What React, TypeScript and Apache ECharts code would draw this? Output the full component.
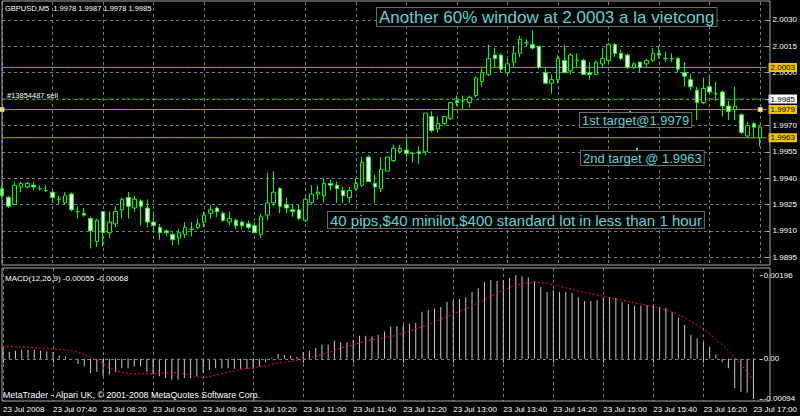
import React, { useEffect, useRef } from "react";
import * as echarts from "echarts";

// ---------- data ----------
const BAR_TIMES: string[] = (() => {
  const a: string[] = [];
  for (let m = 7 * 60; m <= 17 * 60; m += 5) {
    const h = Math.floor(m / 60);
    const mm = m % 60;
    a.push(`${String(h).padStart(2, "0")}:${String(mm).padStart(2, "0")}`);
  }
  return a;
})();
const CATEGORIES = [...BAR_TIMES, ""];

const TIME_TICK_LABELS = [
  "23 Jul 2008", "23 Jul 07:40", "23 Jul 08:20", "23 Jul 09:00", "23 Jul 09:40",
  "23 Jul 10:20", "23 Jul 11:00", "23 Jul 11:40", "23 Jul 12:20", "23 Jul 13:00",
  "23 Jul 13:40", "23 Jul 14:20", "23 Jul 15:00", "23 Jul 15:40", "23 Jul 16:20", "23 Jul 17:00",
];

const OPEN = [
  1.9934, 1.9929, 1.9925, 1.9935, 1.9935, 1.9936, 1.9934, 1.9933, 1.9932, 1.9928,
  1.9926, 1.9931, 1.9921, 1.9920, 1.9917, 1.9904, 1.9921, 1.9909, 1.9914, 1.9922,
  1.9929, 1.9923, 1.9927, 1.9923, 1.9915, 1.9912, 1.9910, 1.9908, 1.9906, 1.9908,
  1.9911, 1.9912, 1.9915, 1.9920, 1.9923, 1.9920, 1.9915, 1.9916, 1.9915, 1.9914,
  1.9913, 1.9908, 1.9919, 1.9926, 1.9934, 1.9925, 1.9922, 1.9922, 1.9916, 1.9926,
  1.9931, 1.9930, 1.9937, 1.9936, 1.9933, 1.9929, 1.9934, 1.9936, 1.9952, 1.9937,
  1.9934, 1.9944, 1.9950, 1.9955, 1.9956, 1.9954, 1.9955, 1.9955, 1.9975, 1.9968,
  1.9971, 1.9974, 1.9984, 1.9984, 1.9983, 1.9987, 1.9995, 1.9999, 2.0010, 2.0010,
  2.0000, 2.0006, 2.0011, 2.0017, 2.0016, 2.0015, 2.0000, 1.9994, 1.9996, 2.0007,
  2.0001, 2.0007, 2.0007, 2.0000, 1.9999, 2.0005, 2.0007, 2.0016, 2.0011, 2.0010,
  2.0003, 2.0006, 2.0005, 2.0007, 2.0011, 2.0008, 2.0008, 2.0008, 2.0000, 1.9996,
  1.9990, 1.9983, 1.9992, 1.9988, 1.9989, 1.9981, 1.9979, 1.9976, 1.9964, 1.9971,
  1.9963,
];
const HIGH = [
  1.9936, 1.9930, 1.9938, 1.9938, 1.9938, 1.9938, 1.9936, 1.9936, 1.9933, 1.9930,
  1.9932, 1.9932, 1.9924, 1.9923, 1.9918, 1.9917, 1.9921, 1.9921, 1.9924, 1.9929,
  1.9932, 1.9930, 1.9928, 1.9928, 1.9921, 1.9914, 1.9911, 1.9909, 1.9911, 1.9915,
  1.9915, 1.9917, 1.9921, 1.9925, 1.9924, 1.9921, 1.9921, 1.9917, 1.9916, 1.9916,
  1.9915, 1.9920, 1.9943, 1.9944, 1.9935, 1.9929, 1.9925, 1.9925, 1.9929, 1.9936,
  1.9936, 1.9940, 1.9939, 1.9938, 1.9935, 1.9935, 1.9940, 1.9952, 1.9953, 1.9942,
  1.9952, 1.9952, 1.9959, 1.9959, 1.9963, 1.9955, 1.9958, 1.9977, 1.9978, 1.9975,
  1.9975, 1.9983, 1.9987, 1.9987, 1.9987, 1.9998, 2.0003, 2.0016, 2.0014, 2.0011,
  2.0008, 2.0015, 2.0021, 2.0019, 2.0024, 2.0015, 2.0003, 1.9999, 2.0010, 2.0016,
  2.0011, 2.0011, 2.0008, 2.0006, 2.0007, 2.0014, 2.0017, 2.0017, 2.0013, 2.0011,
  2.0006, 2.0006, 2.0008, 2.0014, 2.0015, 2.0012, 2.0011, 2.0009, 2.0006, 1.9999,
  1.9992, 1.9997, 1.9998, 1.9995, 1.9990, 1.9984, 1.9992, 1.9977, 1.9972, 1.9972,
  1.9970,
];
const LOW = [
  1.9929, 1.9923, 1.9925, 1.9932, 1.9934, 1.9933, 1.9933, 1.9932, 1.9926, 1.9925,
  1.9925, 1.9921, 1.9917, 1.9918, 1.9900, 1.9901, 1.9901, 1.9906, 1.9912, 1.9917,
  1.9917, 1.9921, 1.9913, 1.9912, 1.9909, 1.9905, 1.9907, 1.9902, 1.9902, 1.9906,
  1.9907, 1.9911, 1.9912, 1.9917, 1.9918, 1.9915, 1.9913, 1.9911, 1.9911, 1.9911,
  1.9909, 1.9906, 1.9916, 1.9924, 1.9920, 1.9920, 1.9918, 1.9916, 1.9915, 1.9925,
  1.9928, 1.9926, 1.9933, 1.9926, 1.9926, 1.9926, 1.9933, 1.9935, 1.9938, 1.9926,
  1.9932, 1.9944, 1.9949, 1.9954, 1.9952, 1.9949, 1.9948, 1.9953, 1.9966, 1.9966,
  1.9970, 1.9973, 1.9981, 1.9979, 1.9980, 1.9986, 1.9992, 1.9998, 2.0003, 2.0000,
  1.9998, 2.0003, 2.0009, 2.0015, 2.0013, 2.0002, 1.9994, 1.9988, 1.9994, 2.0000,
  1.9999, 2.0003, 1.9999, 1.9996, 1.9999, 2.0003, 2.0006, 2.0009, 2.0007, 2.0002,
  2.0002, 2.0000, 2.0003, 2.0006, 2.0008, 2.0006, 2.0006, 2.0000, 1.9992, 1.9990,
  1.9973, 1.9982, 1.9988, 1.9984, 1.9975, 1.9973, 1.9973, 1.9965, 1.9963, 1.9963,
  1.9958,
];
const CLOSE = [
  1.9930, 1.9924, 1.9936, 1.9937, 1.9937, 1.9935, 1.9934, 1.9933, 1.9929, 1.9928,
  1.9930, 1.9922, 1.9921, 1.9919, 1.9910, 1.9916, 1.9909, 1.9915, 1.9921, 1.9928,
  1.9924, 1.9928, 1.9924, 1.9915, 1.9913, 1.9909, 1.9909, 1.9905, 1.9909, 1.9912,
  1.9911, 1.9914, 1.9919, 1.9922, 1.9921, 1.9916, 1.9917, 1.9913, 1.9913, 1.9912,
  1.9909, 1.9918, 1.9926, 1.9932, 1.9924, 1.9923, 1.9921, 1.9917, 1.9928, 1.9931,
  1.9932, 1.9937, 1.9936, 1.9934, 1.9930, 1.9933, 1.9937, 1.9949, 1.9938, 1.9935,
  1.9945, 1.9952, 1.9957, 1.9957, 1.9954, 1.9954, 1.9954, 1.9977, 1.9967, 1.9971,
  1.9975, 1.9983, 1.9983, 1.9984, 1.9986, 1.9997, 2.0000, 2.0008, 2.0008, 2.0002,
  2.0005, 2.0011, 2.0019, 2.0017, 2.0014, 2.0003, 1.9994, 1.9996, 2.0008, 2.0000,
  2.0010, 2.0007, 1.9999, 1.9999, 2.0006, 2.0008, 2.0016, 2.0011, 2.0008, 2.0003,
  2.0005, 2.0003, 2.0007, 2.0011, 2.0010, 2.0008, 2.0008, 2.0002, 1.9998, 1.9992,
  1.9983, 1.9991, 1.9989, 1.9988, 1.9981, 1.9978, 1.9981, 1.9966, 1.9970, 1.9969,
  1.9969,
];

const MACD_MAIN = [
  0.00025, 0.00016, 0.00019, 0.00021, 0.00021, 0.00021, 0.00019, 0.00017, 0.00016, 0.00008,
  0.00005, -0.00002, -0.00012, -0.00018, -0.00033, -0.00031, -0.00041, -0.00037, -0.00031, -0.00022,
  -0.00022, -0.00018, -0.00018, -0.0003, -0.00036, -0.00041, -0.00045, -0.00049, -0.00049, -0.00045,
  -0.00045, -0.00041, -0.00033, -0.00026, -0.00022, -0.00022, -0.00022, -0.00023, -0.00023, -0.00023,
  -0.00023, -0.00018, -0.00008, 0.00003, 0.00011, 0.00009, 0.00008, 0.00005, 0.00016, 0.00019,
  0.00025, 0.00033, 0.00033, 0.00042, 0.00039, 0.00039, 0.00044, 0.00054, 0.00054, 0.00052,
  0.00056, 0.00064, 0.00075, 0.00077, 0.00079, 0.00082, 0.00084, 0.0011, 0.00114, 0.00117,
  0.00121, 0.00133, 0.00137, 0.0014, 0.00144, 0.00156, 0.00165, 0.00179, 0.00184, 0.00182,
  0.00184, 0.00189, 0.00196, 0.00193, 0.00191, 0.00182, 0.00168, 0.00156, 0.00161, 0.00156,
  0.00156, 0.00154, 0.00144, 0.00135, 0.00135, 0.00137, 0.00144, 0.00144, 0.00142, 0.00133,
  0.00128, 0.00124, 0.00124, 0.00126, 0.00124, 0.00121, 0.00119, 0.0011, 0.00096, 0.00079,
  0.00056, 0.00048, 0.00038, 0.00028, 0.0001, -0.00008, -0.00022, -0.00068, -0.00077, -0.00079,
  -0.00094,
];
const MACD_SIGNAL = [
  0.00029, 0.00029, 0.00028, 0.00028, 0.00027, 0.00026, 0.00025, 0.00024, 0.00023, 0.00022,
  0.00021, 0.00019, 0.00015, 0.0001, 0.00004, -0.00004, -0.00012, -0.0002, -0.00027, -0.00032,
  -0.00034, -0.00035, -0.00035, -0.00035, -0.00035, -0.00034, -0.00033, -0.00032, -0.00032, -0.00035,
  -0.00039, -0.00042, -0.00044, -0.00042, -0.00038, -0.00035, -0.00031, -0.00028, -0.00025, -0.00023,
  -0.00021, -0.00019, -0.00017, -0.00013, -0.0001, -0.00008, -0.00006, -0.00004, -0.00001, 0.00002,
  0.00006, 0.0001, 0.00015, 0.0002, 0.00025, 0.00029, 0.00033, 0.00037, 0.00041, 0.00044,
  0.00047, 0.0005, 0.00052, 0.00055, 0.0006, 0.00065, 0.0007, 0.00075, 0.0008, 0.00086,
  0.00092, 0.00099, 0.00105, 0.00111, 0.00117, 0.00124, 0.00131, 0.00138, 0.00146, 0.00154,
  0.0016, 0.00167, 0.00172, 0.00176, 0.00178, 0.00179, 0.00178, 0.00176, 0.00173, 0.0017,
  0.00166, 0.00162, 0.00158, 0.00155, 0.00152, 0.00149, 0.00146, 0.00143, 0.0014, 0.00137,
  0.00134, 0.00131, 0.00128, 0.00125, 0.00122, 0.00118, 0.00114, 0.00109, 0.00103, 0.00096,
  0.00088, 0.00079, 0.00069, 0.00058, 0.00046, 0.00033, 0.00019, 0.00004, -0.00013, -0.00031,
  -0.0005,
];

const PRICE_TICKS = [2.003, 2.0015, 2.0, 1.9985, 1.997, 1.9955, 1.994, 1.9925, 1.991, 1.9895];
const MACD_TICKS = [0.00196, 0, -0.00094];
const MACD_TICK_TEXT = ["0.00196", "0.00", "-0.00094"];
const TARGET_LEVELS = [2.0003, 1.9979, 1.9963];
const ORDER_LEVEL = 1.9985;
const SELECTED_LEVEL = 1.9979;

// ---------- styles ----------
const FONT = "Liberation Sans";
const NARROW = "'Liberation Sans Narrow', 'Liberation Sans', sans-serif";
const GRID_COLOR = "#6f7f8f";
const GOLD_LINE = "#c09a00";
const GOLD_LABEL = "#f0c400";
const ORDER_GREEN = "#00b400";
const CYAN = "#5fd3d8";

const isTick = (i: number) => i % 8 === 0 && i <= 120;

function buildOption(): any {
  const candles = OPEN.map((o, i) => [o, CLOSE[i], LOW[i], HIGH[i]]);

  // horizontal level line spanning the whole price panel, with its price box at the right end
  const levelSeries = (level: number, color: string, dash: any, boxBg: string) => ({
    type: "line",
    xAxisIndex: 0,
    yAxisIndex: 0,
    data: CATEGORIES.map(() => level),
    symbol: "none",
    silent: true,
    z: 2,
    color,
    lineStyle: { color, type: dash, width: 1 },
    endLabel: {
      show: true,
      distance: 2,
      formatter: () => level.toFixed(4),
      color: "#000",
      backgroundColor: boxBg,
      padding: [1, 2, 0, 2],
      fontSize: 8,
      fontFamily: FONT,
    },
  });

  const boxText = (text: string, x: number, y: number, size: number) => ({
    type: "text",
    x,
    y,
    z: 100,
    style: {
      text,
      fill: CYAN,
      font: `${size}px "${FONT}"`,
      backgroundColor: "#000",
      borderColor: "#6a6a6a",
      borderWidth: 1,
      padding: [1, 2, 0, 2],
    },
  });
  const plainText = (text: string, x: number, y: number, size = 8) => ({
    type: "text",
    x,
    y,
    z: 100,
    style: { text, fill: "#ffffff", font: `${size}px "${FONT}"` },
  });

  return {
    animation: false,
    backgroundColor: "#000000",
    grid: [
      { left: 2, right: 30, top: 2, height: 263 },
      { left: 2, right: 30, top: 268, height: 133 },
    ],
    xAxis: [
      {
        type: "category",
        gridIndex: 0,
        data: CATEGORIES,
        boundaryGap: false,
        axisLine: { show: false },
        axisTick: { show: false },
        axisLabel: { show: false },
        splitLine: { show: true, interval: (i: number) => isTick(i), lineStyle: { color: GRID_COLOR, type: [3, 3], width: 1 } },
      },
      {
        type: "category",
        gridIndex: 1,
        data: CATEGORIES,
        boundaryGap: false,
        axisLine: { show: false },
        axisTick: { show: true, interval: (i: number) => isTick(i), length: 4, lineStyle: { color: "#c0c0c0" } },
        axisLabel: {
          show: true,
          interval: (i: number) => isTick(i),
          formatter: (_v: string, i: number) => TIME_TICK_LABELS[i / 8] ?? "",
          align: "left",
          color: "#ffffff",
          fontSize: 8,
          fontFamily: NARROW,
          margin: 4,
        },
        splitLine: { show: true, interval: (i: number) => isTick(i), lineStyle: { color: GRID_COLOR, type: [3, 3], width: 1 } },
      },
    ],
    yAxis: [
      {
        type: "value",
        gridIndex: 0,
        position: "right",
        min: 1.98906,
        max: 2.00402,
        axisLine: { show: false },
        axisTick: { show: true, customValues: PRICE_TICKS, length: 3, lineStyle: { color: "#c0c0c0" } },
        axisLabel: {
          customValues: PRICE_TICKS,
          // the 1.9985 tick text is hidden under the order-price box, as in the reference
          formatter: (v: number) => (Math.abs(v - ORDER_LEVEL) < 1e-7 ? "" : v.toFixed(4)),
          color: "#ffffff",
          fontSize: 8,
          fontFamily: FONT,
          margin: 6,
        },
        splitLine: { show: true, lineStyle: { color: GRID_COLOR, type: [3, 3], width: 1 } },
      },
      {
        type: "value",
        gridIndex: 1,
        position: "right",
        min: -0.000987,
        max: 0.002124,
        axisLine: { show: false },
        axisTick: { show: true, customValues: MACD_TICKS, length: 3, lineStyle: { color: "#c0c0c0" } },
        axisLabel: {
          customValues: MACD_TICKS,
          formatter: (v: number) => MACD_TICK_TEXT[MACD_TICKS.indexOf(v)] ?? "",
          color: "#ffffff",
          fontSize: 8,
          fontFamily: FONT,
          margin: 4,
        },
        splitLine: { show: false },
      },
    ],
    series: [
      {
        type: "candlestick",
        xAxisIndex: 0,
        yAxisIndex: 0,
        data: candles,
        barWidth: 4,
        z: 3,
        itemStyle: {
          color: "#000000",
          color0: "#ffffff",
          borderColor: "#00ff00",
          borderColor0: "#00ff00",
          borderWidth: 1,
        },
        markPoint: {
          silent: true,
          symbol: "rect",
          symbolSize: 4,
          label: { show: false },
          itemStyle: { color: "#ffffff", borderColor: GOLD_LABEL, borderWidth: 1 },
          data: [{ coord: [0, SELECTED_LEVEL] }, { coord: [120, SELECTED_LEVEL] }],
        },
      },
      ...TARGET_LEVELS.map((v) => levelSeries(v, GOLD_LINE, "solid", GOLD_LABEL)),
      levelSeries(ORDER_LEVEL, ORDER_GREEN, [7, 3, 2, 3], "#ffffff"),
      {
        type: "bar",
        xAxisIndex: 1,
        yAxisIndex: 1,
        data: MACD_MAIN,
        barWidth: 1,
        itemStyle: { color: "#c8c8c8" },
        markLine: {
          silent: true,
          symbol: "none",
          precision: 6,
          label: { show: false },
          lineStyle: { color: GRID_COLOR, type: [3, 3], width: 1 },
          data: [{ yAxis: 0 }],
        },
      },
      {
        type: "line",
        xAxisIndex: 1,
        yAxisIndex: 1,
        data: MACD_SIGNAL,
        symbol: "none",
        lineStyle: { color: "#ff1010", type: [2, 2], width: 1 },
        z: 5,
      },
    ],
    graphic: [
      { type: "rect", shape: { x: 2, y: 1, width: 768, height: 264 }, style: { fill: "none", stroke: "#a8a8a8", lineWidth: 1 }, z: 50 },
      { type: "rect", shape: { x: 2, y: 268, width: 768, height: 133 }, style: { fill: "none", stroke: "#a8a8a8", lineWidth: 1 }, z: 50 },
      plainText("GBPUSD,M5  1.9978 1.9987 1.9978 1.9985", 5, 4, 7.5),
      plainText("#13854487 sell", 7, 91, 7.5),
      plainText("MACD(12,26,9) -0.00055 -0.00068", 5, 274, 8),
      plainText("MetaTrader - Alpari UK, \u00a9 2001-2008 MetaQuotes Software Corp.", 3, 390, 8.8),
      { type: "rect", shape: { x: 629, y: 111, width: 2, height: 2 }, style: { fill: CYAN }, z: 100 },
      { type: "rect", shape: { x: 636, y: 148, width: 2, height: 2 }, style: { fill: CYAN }, z: 100 },
      boxText("Another 60% window at 2.0003 a la vietcong", 377, 8, 17),
      boxText("1st target@1.9979", 580, 113, 13),
      boxText("2nd target @ 1.9963", 581, 151, 13),
      boxText("40 pips,$40 minilot,$400 standard lot in less than 1 hour", 328, 212, 15),
    ],
  };
}

export default function App() {
  const ref = useRef<HTMLDivElement>(null);
  useEffect(() => {
    const chart = echarts.init(ref.current!, null, { renderer: "svg" });
    chart.setOption(buildOption());
    return () => chart.dispose();
  }, []);
  return (
    <div
      ref={ref}
      style={{ position: "absolute", left: 0, top: 0, width: 800, height: 416, background: "#000" }}
    />
  );
}
